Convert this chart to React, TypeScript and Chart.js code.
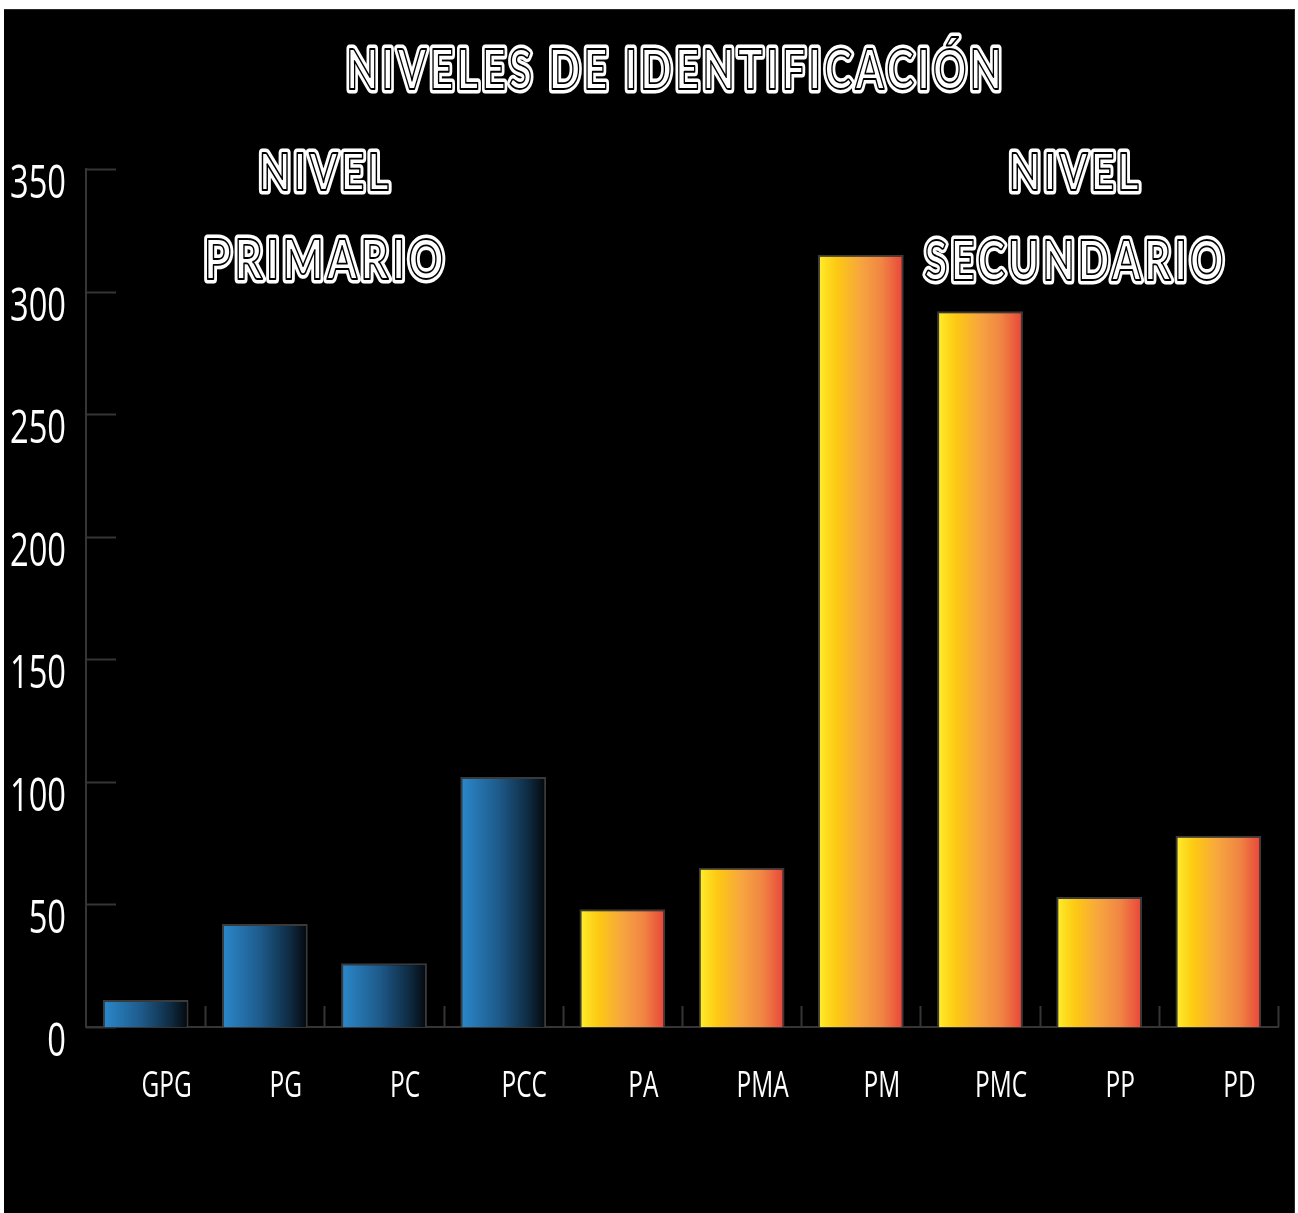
import React, { useEffect, useRef } from "react";
import { Chart, registerables } from "chart.js";

Chart.register(...registerables);

// ---- data ----
const categories = ["GPG", "PG", "PC", "PCC", "PA", "PMA", "PM", "PMC", "PP", "PD"];
const values = [11, 42, 26, 102, 48, 65, 315, 292, 53, 78];
const levels = ["primario", "primario", "primario", "primario", "secundario", "secundario", "secundario", "secundario", "secundario", "secundario"];
const yTickValues = [0, 50, 100, 150, 200, 250, 300, 350];
const titleText = "NIVELES DE IDENTIFICACIÓN";
const primaryLabel = ["NIVEL", "PRIMARIO"];
const secondaryLabel = ["NIVEL", "SECUNDARIO"];

const BAR_PCT = 0.72;
const AXIS_FONT = '"Open Sans", "Liberation Sans", sans-serif';
const TITLE_FONT = 'Lato, "Noto Sans", sans-serif';

function barGradient(c: any) {
  const chart = c.chart;
  const xs = chart.scales && chart.scales.x;
  if (c.type !== "data" || !xs || !chart.chartArea) return "#2a86c8";
  const i = c.dataIndex;
  const x = xs.getPixelForValue(i);
  const cw = (chart.chartArea.right - chart.chartArea.left) / categories.length;
  const hw = (cw * BAR_PCT) / 2;
  const g = chart.ctx.createLinearGradient(x - hw, 0, x + hw, 0);
  if (levels[i] === "primario") {
    g.addColorStop(0, "#2b89cc");
    g.addColorStop(0.45, "#1e5a8a");
    g.addColorStop(0.8, "#0e2a40");
    g.addColorStop(1, "#03070b");
  } else {
    g.addColorStop(0, "#fff233");
    g.addColorStop(0.08, "#fde021");
    g.addColorStop(0.22, "#fdc913");
    g.addColorStop(0.5, "#f7a540");
    g.addColorStop(0.75, "#f08443");
    g.addColorStop(1, "#e8443a");
  }
  return g;
}

function outlined(ctx: CanvasRenderingContext2D, text: string, cx: number, top: number, w: number, h: number) {
  const pad = 4.5;
  ctx.save();
  (ctx as any).letterSpacing = "0px";
  ctx.font = `bold 100px ${TITLE_FONT}`;
  const capRatio = ctx.measureText("H").actualBoundingBoxAscent / 100;
  const size = (h - 2 * pad) / capRatio;
  ctx.font = `bold ${size}px ${TITLE_FONT}`;
  (ctx as any).letterSpacing = `${(size * 0.09).toFixed(1)}px`;
  const m = ctx.measureText(text);
  const tw = m.actualBoundingBoxLeft + m.actualBoundingBoxRight;
  const sx = (w - 2 * pad) / tw;
  ctx.translate(cx - (w - 2 * pad) / 2, top + h - pad);
  ctx.scale(sx, 1);
  ctx.textAlign = "left";
  ctx.textBaseline = "alphabetic";
  const x0 = m.actualBoundingBoxLeft;
  ctx.lineJoin = "round";
  ctx.strokeStyle = "#fff";
  ctx.lineWidth = 2 * pad;
  ctx.strokeText(text, x0, 0);
  ctx.fillStyle = "#fff";
  ctx.fillText(text, x0, 0);
  ctx.strokeStyle = "#000";
  ctx.lineWidth = 1.8;
  ctx.strokeText(text, x0, 0);
  ctx.restore();
}

function condensedText(ctx: CanvasRenderingContext2D, text: string, x: number, y: number, size: number, sx: number, align: CanvasTextAlign) {
  ctx.save();
  ctx.font = `${size}px ${AXIS_FONT}`;
  ctx.fillStyle = "#ffffff";
  ctx.textAlign = align;
  ctx.textBaseline = "alphabetic";
  ctx.translate(x, y);
  ctx.scale(sx, 1);
  ctx.fillText(text, 0, 0);
  ctx.restore();
}

const decorPlugin = {
  id: "decor",
  beforeDraw(chart: any) {
    const { ctx, width, height } = chart;
    ctx.save();
    ctx.fillStyle = "#000";
    ctx.fillRect(0, 0, width, height);
    ctx.restore();
  },
  beforeDatasetsDraw(chart: any) {
    const { ctx, chartArea, scales } = chart;
    const ys = scales.y;
    ctx.save();
    ctx.strokeStyle = "#353535";
    ctx.lineWidth = 2;
    yTickValues.forEach((v) => {
      const y = Math.round(ys.getPixelForValue(v)) + 0.5;
      ctx.beginPath();
      ctx.moveTo(chartArea.left, y);
      ctx.lineTo(chartArea.left + 30, y);
      ctx.stroke();
    });
    const cw = (chartArea.right - chartArea.left) / categories.length;
    for (let k = 1; k <= categories.length; k++) {
      const x = Math.round(chartArea.left + k * cw) + 0.5;
      ctx.beginPath();
      ctx.moveTo(x, chartArea.bottom);
      ctx.lineTo(x, chartArea.bottom - 21);
      ctx.stroke();
    }
    ctx.restore();
  },
  afterDraw(chart: any) {
    const { ctx, chartArea, scales } = chart;
    yTickValues.forEach((v) => {
      const y = scales.y.getPixelForValue(v);
      condensedText(ctx, String(v), chartArea.left - 20, y + 29, 46, 0.71, "right");
    });
    categories.forEach((lab, i) => {
      const x = scales.x.getPixelForValue(i);
      condensedText(ctx, lab, x + 21, chartArea.bottom + 70, 36, 0.68, "center");
    });
    outlined(ctx, titleText, 670, 33, 658, 50);
    outlined(ctx, primaryLabel[0], 321.5, 138, 135, 46);
    outlined(ctx, primaryLabel[1], 321, 224, 244, 49);
    outlined(ctx, secondaryLabel[0], 1071.5, 138, 135, 46);
    outlined(ctx, secondaryLabel[1], 1070, 224, 306, 50);
  },
};

export default function App() {
  const ref = useRef<HTMLCanvasElement | null>(null);
  useEffect(() => {
    if (!ref.current) return;
    const chart = new Chart(ref.current, {
      type: "bar",
      data: {
        labels: categories,
        datasets: [
          {
            data: values,
            backgroundColor: barGradient as any,
            borderColor: "#3a3a3a",
            borderWidth: 2,
            borderSkipped: "bottom",
            barPercentage: BAR_PCT,
            categoryPercentage: 1,
          },
        ],
      },
      options: {
        responsive: false,
        animation: false,
        layout: { padding: { top: 159, right: 16, left: 0, bottom: 0 } },
        plugins: {
          legend: { display: false },
          tooltip: { enabled: false },
          title: { display: false },
        },
        scales: {
          x: {
            grid: { display: false, drawTicks: false },
            border: { display: true, color: "#353535", width: 2 },
            ticks: { display: false },
            afterFit: (s: any) => {
              s.height = 186;
            },
          },
          y: {
            min: 0,
            max: 350,
            grid: { display: false, drawTicks: false },
            border: { display: true, color: "#353535", width: 2 },
            ticks: { display: false, stepSize: 50 },
            afterFit: (s: any) => {
              s.width = 82;
            },
          },
        },
      },
      plugins: [decorPlugin],
    });
    return () => chart.destroy();
  }, []);

  return (
    <div style={{ position: "absolute", left: 0, top: 0, width: 1298, height: 1213, background: "#fff", overflow: "hidden" }}>
      <div style={{ position: "absolute", left: 4, top: 9, width: 1291, height: 1204, background: "#000", borderTop: "1px solid #2a2a2a", borderRight: "1px solid #2a2a2a", boxSizing: "border-box" }}>
        <canvas ref={ref} width={1290} height={1203} style={{ display: "block" }} />
      </div>
    </div>
  );
}
